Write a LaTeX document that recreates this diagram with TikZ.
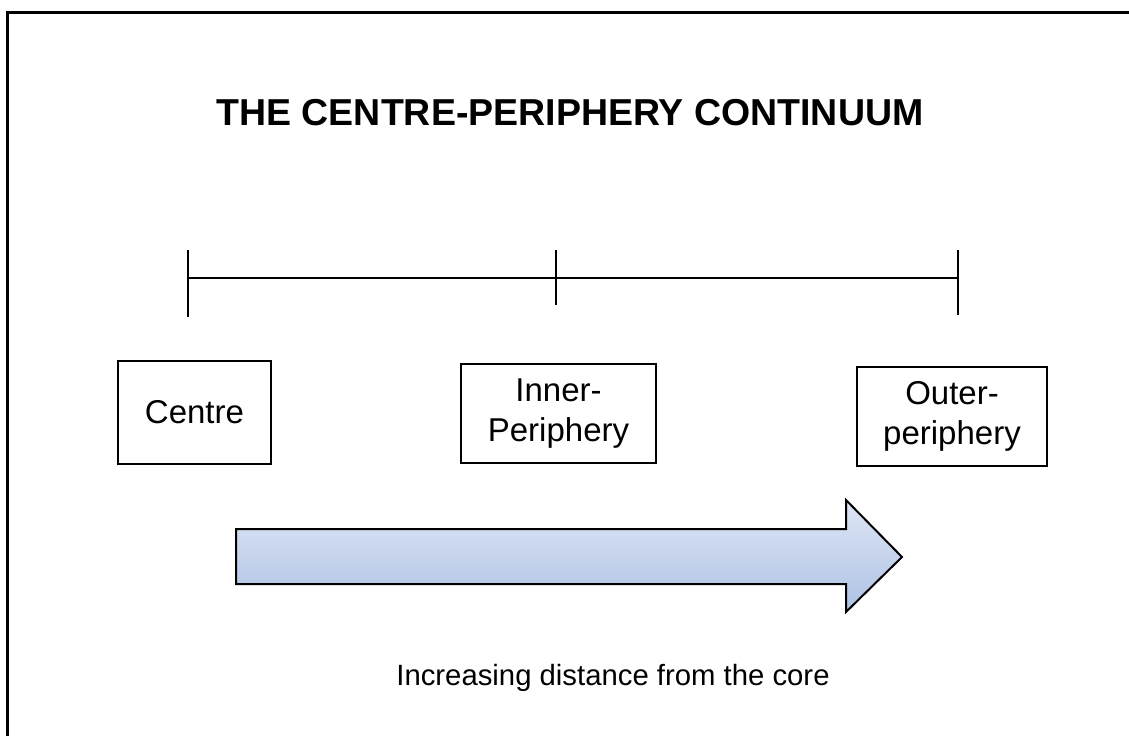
\documentclass[tikz,border=0pt]{standalone}
\usepackage{fontspec}
\setmainfont{Liberation Sans}
\begin{document}
\begin{tikzpicture}[x=1pt,y=-1pt,
  labelbox/.style={draw,line width=1.6pt,minimum width=#1,minimum height=100pt,align=center,inner sep=0pt,
    font=\fontsize{33}{39.5}\selectfont},
  tick/.style={line width=1.5pt},
  frameline/.style={line width=3pt}]
\useasboundingbox (0,0) rectangle (1129,736);
% frame (top and left only visible)
\coordinate (ftl) at (7,12);
\coordinate (ftr) at (1129,12);
\coordinate (fbl) at (7,736);
\draw[frameline] (fbl) -- (ftl) -- (ftr);
% title
\node[font=\bfseries\fontsize{37.5}{44}\selectfont,anchor=base] (title) at (570,125) {THE CENTRE-PERIPHERY CONTINUUM};
% timeline
\coordinate (lt) at (188,250); \coordinate (lb) at (188,317);
\coordinate (mt) at (556,250); \coordinate (mb) at (556,305);
\coordinate (rt) at (958,250); \coordinate (rb) at (958,315);
\coordinate (lm) at (188,278); \coordinate (rm) at (958,278);
\draw[tick] (lt) -- (lb);
\draw[tick] (mt) -- (mb);
\draw[tick] (rt) -- (rb);
\draw[tick] (lm) -- (rm);
% boxes
\node[labelbox=153pt,minimum height=103pt] (centre) at (194.5,412.5) {Centre};
\node[labelbox=195pt,minimum height=99pt] (inner) at (558.5,413.5) {Inner-\\Periphery};
\node[labelbox=190pt,minimum height=99pt] (outer) at (952,416.5) {Outer-\\periphery};
% arrow
\shade[top color={rgb,255:red,222;green,230;blue,245},bottom color={rgb,255:red,174;green,194;blue,228}]
  (236,529) -- (846,529) -- (846,500) -- (902,557) -- (846,612) -- (846,584) -- (236,584) -- cycle;
\draw[line width=2pt,line join=miter]
  (236,529) -- (846,529) -- (846,500) -- (902,557) -- (846,612) -- (846,584) -- (236,584) -- cycle;
% caption
\node[font=\fontsize{29.3}{35}\selectfont,anchor=base] (caption) at (613,685) {Increasing distance from the core};
\end{tikzpicture}
\end{document}
